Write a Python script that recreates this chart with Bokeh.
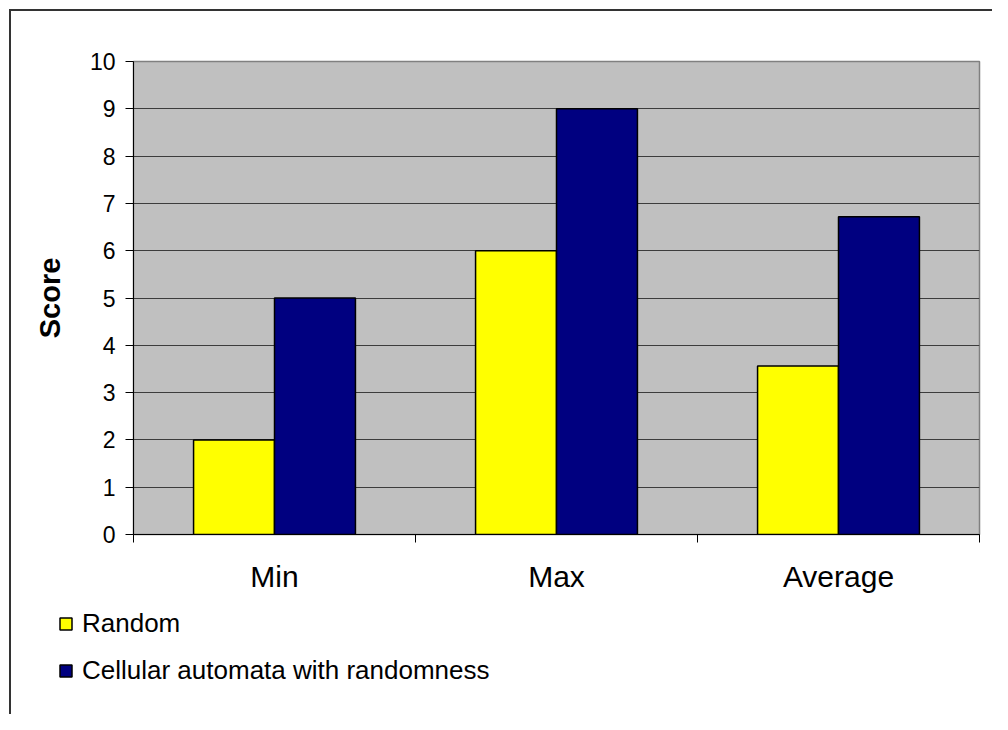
from bokeh.plotting import figure
from bokeh.layouts import column
from bokeh.models import Range1d, FixedTicker, Legend, LegendItem, ColumnDataSource
from bokeh.embed import file_html
from bokeh.resources import INLINE

categories = ["Min", "Max", "Average"]
random_scores = [2, 6, 3.56]
cellular_scores = [5, 9, 6.72]
y_ticks = list(range(0, 11))
series_names = ["Random", "Cellular automata with randomness"]

FONT = "Liberation Sans"
BAR_W = 0.287
YELLOW = "#FFFF00"
NAVY = "#000080"
centers = [i + 0.5 for i in range(len(categories))]

src = ColumnDataSource(dict(
    x_r=[c - BAR_W / 2 for c in centers],
    x_c=[c + BAR_W / 2 for c in centers],
    rnd=random_scores,
    cel=cellular_scores,
))

p = figure(width=992, height=600, output_backend="svg", toolbar_location=None,
           x_range=Range1d(0, len(categories)), y_range=Range1d(0, 10),
           min_border_left=133, min_border_top=61, min_border_right=13, min_border_bottom=66)
p.border_fill_color = None
p.background_fill_color = "#C0C0C0"
p.outline_line_color = "#808080"
p.outline_line_width = 1.5

p.vbar(x="x_r", top="rnd", width=BAR_W, source=src, fill_color=YELLOW,
       line_color="black", line_width=1.5)
p.vbar(x="x_c", top="cel", width=BAR_W, source=src, fill_color=NAVY,
       line_color="black", line_width=1.5)

# y axis
p.yaxis.ticker = FixedTicker(ticks=y_ticks)
p.yaxis.axis_label = "Score"
p.yaxis.axis_label_text_font = FONT
p.yaxis.axis_label_text_font_style = "bold"
p.yaxis.axis_label_text_font_size = "29px"
p.yaxis.axis_label_text_color = "black"
p.yaxis.axis_label_standoff = 21
p.yaxis.major_label_text_font = FONT
p.yaxis.major_label_text_font_size = "23px"
p.yaxis.major_label_text_color = "black"
p.yaxis.major_label_standoff = 10
p.yaxis.major_tick_out = 8
p.yaxis.major_tick_in = 0
p.yaxis.minor_tick_line_color = None
p.yaxis.axis_line_color = "black"
p.yaxis.major_tick_line_color = "black"

# x axis
p.xaxis.ticker = FixedTicker(ticks=centers, minor_ticks=[0, 1, 2, 3])
p.xaxis.major_label_overrides = {c: lab for c, lab in zip(centers, categories)}
p.xaxis.major_label_text_font = FONT
p.xaxis.major_label_text_font_size = "30px"
p.xaxis.major_label_text_color = "black"
p.xaxis.major_label_standoff = 17
p.xaxis.major_tick_out = 0
p.xaxis.major_tick_in = 0
p.xaxis.minor_tick_out = 8
p.xaxis.minor_tick_in = 0
p.xaxis.minor_tick_line_color = "black"
p.xaxis.axis_line_color = "black"

p.xgrid.grid_line_color = None
p.ygrid.ticker = FixedTicker(ticks=y_ticks)
p.ygrid.grid_line_color = "#3c3c3c"
p.ygrid.grid_line_width = 1

# legend area: an axis-less strip below the chart; its key renderers share the
# chart's data but are hidden (and out of view), so only the legend shows
q = figure(width=992, height=114, output_backend="svg", toolbar_location=None,
           x_axis_type=None, y_axis_type=None,
           x_range=Range1d(100, 103), y_range=Range1d(100, 110),
           min_border_left=0, min_border_right=0, min_border_top=0, min_border_bottom=0)
q.frame_align = False
q.border_fill_color = None
q.background_fill_color = None
q.outline_line_color = None
q.grid.grid_line_color = None
k1 = q.vbar(x="x_r", top="rnd", width=BAR_W, source=src, fill_color=YELLOW,
            line_color="black", line_width=1.5, visible=False)
k2 = q.vbar(x="x_c", top="cel", width=BAR_W, source=src, fill_color=NAVY,
            line_color="black", line_width=1.5, visible=False)

legend = Legend(items=[LegendItem(label=series_names[0], renderers=[k1]),
                       LegendItem(label=series_names[1], renderers=[k2])],
                location=(58, 28), orientation="vertical", click_policy="none",
                glyph_width=15, glyph_height=15, label_height=20,
                label_text_font=FONT, label_text_font_size="26px",
                label_text_color="black", inactive_fill_alpha=0,
                label_standoff=9, spacing=16, padding=0, margin=0,
                border_line_color=None, background_fill_alpha=0)
q.add_layout(legend, "center")

layout = column(p, q, spacing=0)
layout.styles = {
    "background": "linear-gradient(#333333, #333333) 9px 9px / 2px 100% no-repeat, "
                  "linear-gradient(#333333, #333333) 9px 9px / 100% 2px no-repeat, white",
}

open("out.html", "w").write(file_html(layout, INLINE))
